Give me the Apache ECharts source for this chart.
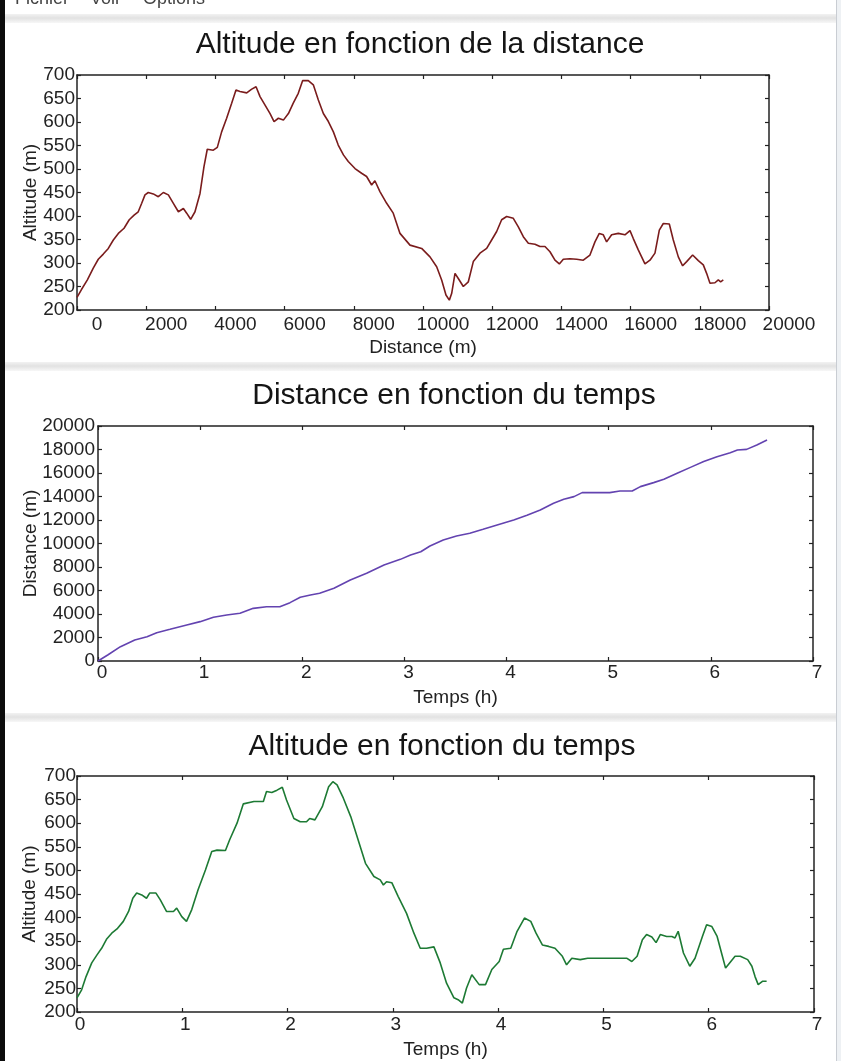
<!DOCTYPE html>
<html>
<head>
<meta charset="utf-8">
<script src="https://cdn.jsdelivr.net/npm/echarts@6/dist/echarts.min.js"></script>
<style>
html,body{margin:0;padding:0;background:#fff;overflow:hidden;}
#chart{width:841px;height:1061px;}
</style>
</head>
<body>
<div id="chart"></div>
<script>
// ---- Chart 1 : Altitude en fonction de la distance ----
var dist1 = [0,125,300,470,615,760,905,1050,1195,1360,
  1510,1650,1770,1870,1965,2060,2205,2350,2495,2640,
  2785,2930,3075,3170,3285,3410,3555,3670,3765,3940,
  4055,4180,4325,4470,4595,4710,4905,5050,5175,5290,
  5435,5580,5695,5820,5965,6110,6250,6395,6520,6685,
  6830,6975,7120,7265,7410,7550,7700,7840,8035,8225,
  8370,8515,8610,8755,8950,9140,9335,9624,9961,10202,
  10395,10539,10664,10761,10828,10925,11020,11165,11310,11454,
  11647,11840,11984,12129,12273,12418,12610,12755,12899,13044,
  13236,13381,13525,13670,13814,13940,14055,14247,14440,14633,
  14825,14970,15095,15211,15307,15452,15644,15837,15982,16078,
  16222,16415,16560,16704,16830,16945,17119,17234,17379,17504,
  17620,17793,17957,18101,18197,18294,18438,18535,18602,18679];
var alt1 = [227,243,264,289,308,319,331,349,363,374,
  392,402,409,427,445,450,447,441,450,445,
  427,409,416,406,393,409,448,505,542,540,
  546,579,608,640,668,665,662,670,675,654,
  636,618,601,608,604,618,640,661,688,688,
  679,647,618,601,579,551,530,516,501,491,
  484,466,475,452,427,406,363,338,331,313,
  292,264,232,221,235,278,267,250,260,303,
  321,331,349,367,392,399,395,377,356,342,
  340,335,335,324,306,298,308,309,308,306,
  317,345,363,360,345,360,363,360,369,352,
  328,298,306,321,370,384,383,349,313,294,
  303,317,305,296,278,257,258,264,260,264];

// ---- Chart 2 : Distance en fonction du temps ----
var temps2 = [0,0.095,0.22,0.36,0.48,0.575,0.705,0.869,1.0,1.13,
  1.26,1.39,1.52,1.65,1.78,1.88,1.98,2.08,2.17,2.31,
  2.47,2.63,2.80,2.96,3.06,3.16,3.25,3.38,3.51,3.64,
  3.77,3.94,4.07,4.20,4.33,4.46,4.56,4.66,4.74,4.85,
  5.01,5.11,5.23,5.31,5.44,5.54,5.67,5.80,5.93,6.06,
  6.19,6.26,6.35,6.45,6.55];
var dist2 = [0,510,1220,1790,2070,2410,2695,3064,3350,3720,
  3915,4057,4480,4620,4620,4965,5420,5620,5760,6185,
  6890,7460,8170,8650,9020,9300,9790,10300,10640,10870,
  11210,11660,12000,12400,12850,13420,13760,13990,14330,14330,
  14330,14470,14470,14840,15180,15460,15970,16480,16970,17390,
  17730,17960,18010,18380,18810];

// ---- Chart 3 : Altitude en fonction du temps ----
var temps3 = [0,0.044,0.086,0.14,0.19,0.234,0.28,0.33,0.38,0.44,
  0.49,0.53,0.567,0.615,0.66,0.69,0.75,0.79,0.85,0.916,
  0.947,0.995,1.04,1.09,1.15,1.22,1.28,1.33,1.41,1.45,
  1.52,1.58,1.68,1.77,1.80,1.85,1.90,1.95,1.99,2.06,
  2.12,2.18,2.21,2.26,2.33,2.39,2.43,2.47,2.53,2.60,
  2.66,2.74,2.82,2.88,2.91,2.94,2.99,3.05,3.13,3.20,
  3.26,3.32,3.39,3.45,3.51,3.58,3.62,3.66,3.70,3.75,
  3.82,3.88,3.94,4.01,4.05,4.12,4.18,4.25,4.31,4.36,
  4.42,4.48,4.54,4.61,4.65,4.70,4.78,4.85,4.97,5.10,
  5.22,5.27,5.32,5.37,5.41,5.46,5.50,5.54,5.60,5.65,
  5.68,5.71,5.76,5.82,5.87,5.94,5.98,6.03,6.08,6.13,
  6.16,6.21,6.25,6.30,6.37,6.41,6.44,6.47,6.51,6.55];
var alt3 = [230,247,275,304,321,335,354,367,376,392,
  413,441,452,448,441,452,452,438,413,413,
  420,402,392,417,459,501,540,543,542,565,
  600,641,646,646,667,665,670,676,649,610,
  603,603,610,607,635,677,688,681,653,614,
  572,515,487,480,469,476,474,445,409,367,
  335,335,338,304,261,230,226,219,251,279,
  258,258,290,307,333,335,371,399,392,367,
  342,339,335,318,300,314,311,314,314,314,
  314,307,318,353,364,359,347,364,360,360,
  357,371,325,297,314,360,385,381,360,318,
  293,307,318,318,311,297,275,258,265,265];

// ---- texts ----
var titles = ['Altitude en fonction de la distance','Distance en fonction du temps','Altitude en fonction du temps'];
var xNames = ['Distance (m)','Temps (h)','Temps (h)'];
var yNames = ['Altitude (m)','Distance (m)','Altitude (m)'];
var menuItems = ['Fichier','Voir','Options'];

var FONT = '"Liberation Sans", Arial, Helvetica, sans-serif';
var INK = '#222';

function zip(a,b){ return a.map(function(v,i){ return [v,b[i]]; }); }
function plain(v){ return String(v); }

var chart = echarts.init(document.getElementById('chart'), null, {renderer:'canvas'});

var grids = [
  {left:77, top:75, width:692, height:235},
  {left:98, top:426, width:715, height:235},
  {left:77, top:776, width:737, height:236}
];
grids.forEach(function(g){ g.containLabel=false; g.outerBoundsMode='none'; g.show=false; });

function mkX(grid, pos, min, max, interval, labels, name, nameGap, shift, labelMargin){
  return {
    type:'value', gridIndex:grid, position:pos, min:min, max:max, interval:interval,
    axisLine:{show:true, onZero:false, lineStyle:{color:INK, width:1.5}},
    axisTick:{show:true, inside:true, length:4, lineStyle:{color:INK, width:1.2}},
    splitLine:{show:false},
    axisLabel:{show:labels, color:INK, fontFamily:FONT, fontSize:19, margin:labelMargin, formatter:plain,
      padding:[0,0,0,shift*2], showMinLabel:true, showMaxLabel:true, hideOverlap:false},
    name: labels ? name : '', nameLocation:'middle', nameGap:nameGap, nameMoveOverlap:false,
    nameTextStyle:{color:INK, fontFamily:FONT, fontSize:19}
  };
}
function mkY(grid, pos, min, max, interval, labels, name, nameGap, labelMargin){
  return {
    type:'value', gridIndex:grid, position:pos, min:min, max:max, interval:interval,
    axisLine:{show:true, onZero:false, lineStyle:{color:INK, width:1.5}},
    axisTick:{show:true, inside:true, length:4, lineStyle:{color:INK, width:1.2}},
    splitLine:{show:false},
    axisLabel:{show:labels, color:INK, fontFamily:FONT, fontSize:19, margin:labelMargin, formatter:plain,
      showMinLabel:true, showMaxLabel:true, hideOverlap:false},
    name: labels ? name : '', nameLocation:'middle', nameGap:nameGap, nameMoveOverlap:false,
    nameTextStyle:{color:INK, fontFamily:FONT, fontSize:19}
  };
}

var xAxes = [
  mkX(0,'bottom',0,20000,2000,true,xNames[0],28,20,5),
  mkX(0,'top',0,20000,2000,false,'',0,0,0),
  mkX(1,'bottom',0,7,1,true,xNames[1],27,4,2),
  mkX(1,'top',0,7,1,false,'',0,0,0),
  mkX(2,'bottom',0,7,1,true,xNames[2],28,3,3),
  mkX(2,'top',0,7,1,false,'',0,0,0)
];
var yAxes = [
  mkY(0,'left',200,700,50,true,yNames[0],37,2),
  mkY(0,'right',200,700,50,false,'',0,0),
  mkY(1,'left',0,20000,2000,true,yNames[1],58,3),
  mkY(1,'right',0,20000,2000,false,'',0,0),
  mkY(2,'left',200,700,50,true,yNames[2],38,1),
  mkY(2,'right',200,700,50,false,'',0,0)
];

function band(y){
  return {type:'rect', z:-5, silent:true, shape:{x:0,y:y,width:841,height:9},
    style:{fill:new echarts.graphic.LinearGradient(0,0,0,1,[
      {offset:0,color:'#f2f2f2'},{offset:0.45,color:'#e2e2e2'},{offset:1,color:'#f7f7f7'}])}};
}
var menuX = [15, 90, 143];
var titlePos = [[420,45],[454,396],[442,747]];

var graphic = [
  {type:'rect', z:-10, silent:true, shape:{x:0,y:0,width:841,height:1061}, style:{fill:'#ffffff'}},
  band(14), band(362), band(713),
  {type:'rect', z:-4, silent:true, shape:{x:836,y:0,width:1,height:1061}, style:{fill:'#c9cdd3'}},
  {type:'rect', z:-4, silent:true, shape:{x:837,y:0,width:4,height:1061}, style:{fill:'#eef1f4'}},
  {type:'rect', z:10, silent:true, shape:{x:0,y:0,width:5,height:1061}, style:{fill:'#0c0c0c'}}
];
menuItems.forEach(function(m,i){
  graphic.push({type:'text', z:5, silent:true, x:menuX[i], y:8,
    style:{text:m, fill:'#444', font:'18px '+FONT, align:'left', verticalAlign:'bottom', textAlign:'left', textVerticalAlign:'bottom'}});
});
titles.forEach(function(t,i){
  graphic.push({type:'text', z:5, silent:true, x:titlePos[i][0], y:titlePos[i][1],
    style:{text:t, fill:'#151515', font:'30px '+FONT, align:'center', verticalAlign:'middle', textAlign:'center', textVerticalAlign:'middle'}});
});

function mkSeries(xi, yi, data, color){
  return {type:'line', xAxisIndex:xi, yAxisIndex:yi, data:data, showSymbol:false, symbol:'none',
    smooth:false, animation:false, clip:true,
    lineStyle:{color:color, width:1.6}, itemStyle:{color:color}, emphasis:{disabled:true}};
}

chart.setOption({
  animation:false,
  backgroundColor:'#ffffff',
  textStyle:{fontFamily:FONT},
  grid:grids,
  xAxis:xAxes,
  yAxis:yAxes,
  graphic:graphic,
  series:[
    mkSeries(0,0,zip(dist1,alt1),'#7a1c1c'),
    mkSeries(2,2,zip(temps2,dist2),'#6343b0'),
    mkSeries(4,4,zip(temps3,alt3),'#1d7a34')
  ]
});
</script>
</body>
</html>
